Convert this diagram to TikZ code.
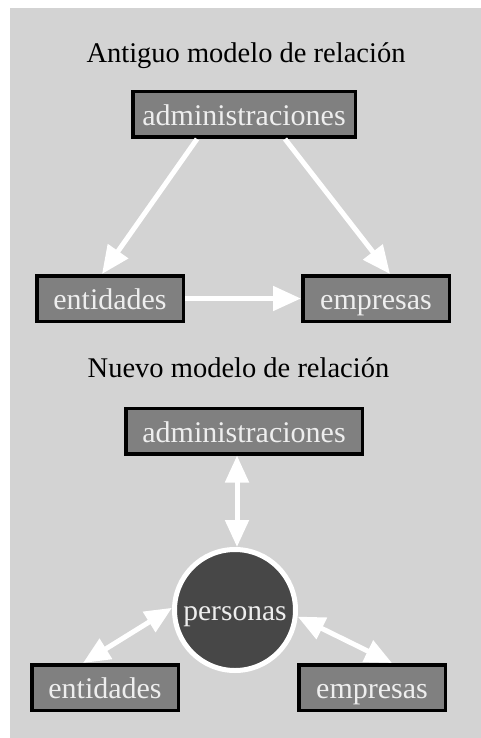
\documentclass[tikz,border=0pt]{standalone}
\usepackage{fontspec}
\setmainfont{Liberation Serif}
\usepackage{tikz}
\usetikzlibrary{arrows.meta,positioning,shapes}

\definecolor{bggray}{HTML}{D3D3D3}
\definecolor{boxgray}{HTML}{808080}
\definecolor{circgray}{HTML}{474747}
\definecolor{boxtext}{HTML}{EEEEEE}

\begin{document}
\begin{tikzpicture}[x=1pt,y=-1pt,
          heading/.style={font=\fontsize{28.5}{30}\selectfont,anchor=base,inner sep=0pt},
          box/.style={draw=black,fill=boxgray,line width=3.5pt,text=boxtext,font=\fontsize{30}{32}\selectfont,
            minimum width=146.5pt,minimum height=45.5pt,inner sep=0pt,text height=22pt,text depth=0pt},
          widebox/.style={box,minimum width=222.5pt},
          person/.style={circle,draw=white,fill=circgray,line width=5pt,text=boxtext,minimum size=121pt,
            inner sep=0pt,font=\fontsize{29.5}{31}\selectfont,text height=20pt,text depth=0pt},
          arrowline/.style={draw=white,line width=5pt,-{Triangle[length=28pt,width=24pt]}},
          darrowline/.style={draw=white,line width=5pt,{Triangle[length=27pt,width=23pt]}-{Triangle[length=27pt,width=23pt]}}
        ]
        \useasboundingbox (0,0) rectangle (481,738);
        \fill[bggray] (10,8) rectangle (481,738);

        %old model
        \node[heading] (t1) at (246,63) {Antiguo modelo de relación};
        \node[widebox] (a1) at (244,114.5) {administraciones};
        \node[box] (e1) at (110,298.5) {entidades};
        \node[right of = e1,box,node distance=266pt] (m1) {empresas};
        \path[arrowline] ([xshift=-47pt]a1.south) -- ([xshift=-8pt]e1.north);
        \path[arrowline] ([xshift=41pt]a1.south) -- ([xshift=14pt]m1.north);
        \path[arrowline] (e1.east) -- (m1.west);

        %new model
        \node[heading] (t2) at (238.5,377.5) {Nuevo modelo de relación};
        \node[widebox,minimum width=236.5pt] (a2) at (244,431) {administraciones};
        \node[person] (p) at (235,610) {personas};
        \node[box] (e2) at (105,687.5) {entidades};
        \node[right of = e2,box,node distance=267pt] (m2) {empresas};
        \path[darrowline] ([xshift=-7pt]a2.south) -- ([xshift=2pt]p.north);
        \path[darrowline] ([xshift=-22pt]e2.north) -- (p.178);
        \path[darrowline] (p.-6) -- ([xshift=20pt]m2.north);
    \end{tikzpicture}
\end{document}
